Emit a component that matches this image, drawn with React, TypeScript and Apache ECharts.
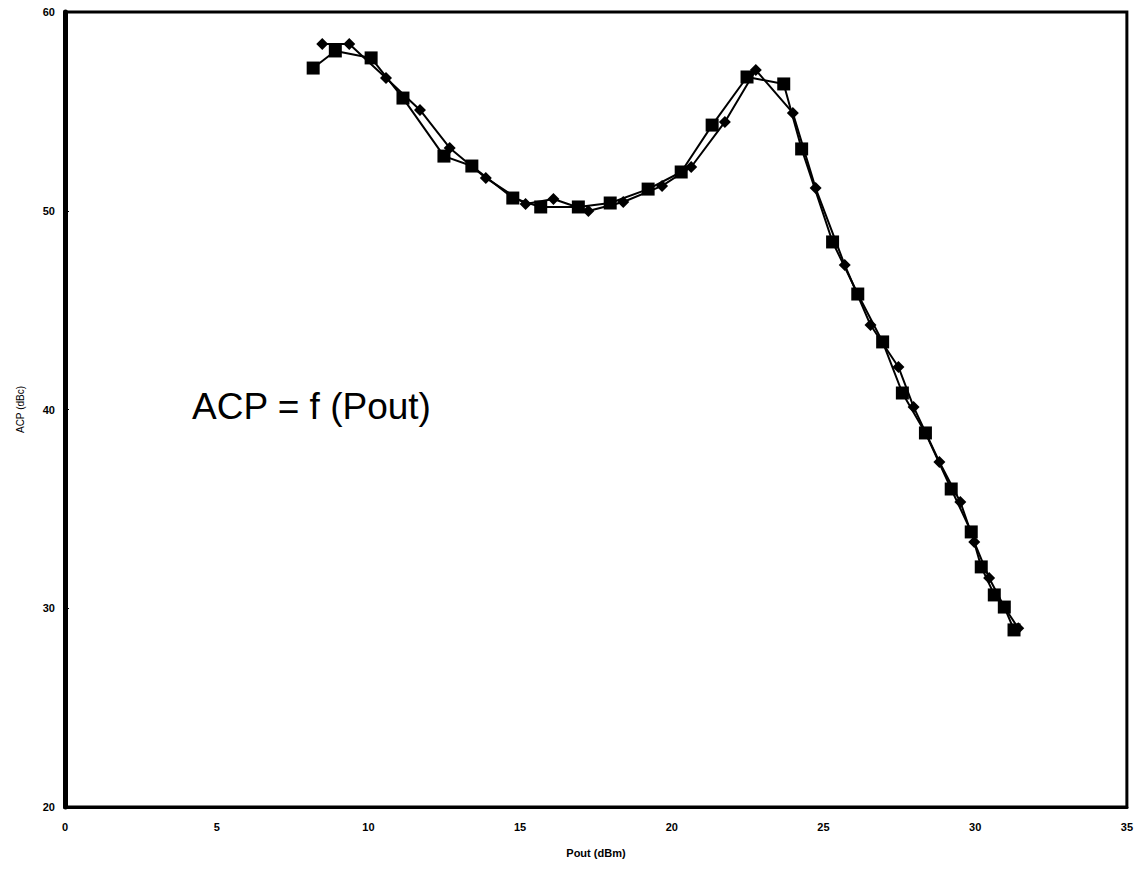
import React, { useEffect, useRef } from "react";
import * as echarts from "echarts";

const squareX = [8.18, 8.91, 10.09, 11.14, 12.49, 13.41, 14.76, 15.68, 16.92, 17.97, 19.22, 20.31, 21.33, 22.48, 23.69, 24.28, 25.3, 26.13, 26.95, 27.6, 28.36, 29.21, 29.87, 30.2, 30.63, 30.96, 31.28];
const squareY = [57.18, 58.04, 57.69, 55.67, 52.75, 52.25, 50.64, 50.19, 50.19, 50.39, 51.09, 51.95, 54.31, 56.73, 56.38, 53.11, 48.43, 45.81, 43.4, 40.83, 38.82, 36.0, 33.84, 32.08, 30.67, 30.06, 28.91];
const diamondX = [8.48, 9.37, 10.58, 11.7, 12.68, 13.87, 15.18, 16.1, 17.25, 18.4, 19.68, 20.64, 21.75, 22.77, 23.99, 24.74, 25.7, 26.55, 27.47, 27.97, 28.82, 29.51, 29.97, 30.46, 30.96, 31.42];
const diamondY = [58.39, 58.39, 56.68, 55.07, 53.16, 51.65, 50.34, 50.59, 49.99, 50.44, 51.25, 52.2, 54.47, 57.08, 54.92, 51.14, 47.27, 44.25, 42.14, 40.13, 37.36, 35.35, 33.33, 31.52, 30.06, 29.0];
const xTicks = [0, 5, 10, 15, 20, 25, 30, 35];
const yTicks = [20, 30, 40, 50, 60];
const xName = "Pout (dBm)";
const yName = "ACP (dBc)";
const annotation = "ACP = f (Pout)";

export default function App() {
  const ref = useRef<HTMLDivElement>(null);
  useEffect(() => {
    document.body.style.margin = "0";
    if (!ref.current) return;
    const chart = echarts.init(ref.current, null, { renderer: "svg" });
    const labelStyle = { color: "#000", fontFamily: "Liberation Sans", fontSize: 11, fontWeight: "bold" as const };
    chart.setOption({
      animation: false,
      backgroundColor: "#fff",
      grid: { left: 65, right: 5, top: 12, bottom: 68, show: true, borderColor: "#000", borderWidth: 3, backgroundColor: "transparent" },
      xAxis: {
        type: "value",
        min: xTicks[0],
        max: xTicks[xTicks.length - 1],
        interval: 5,
        name: xName,
        nameLocation: "middle",
        nameGap: 40,
        nameTextStyle: labelStyle,
        axisLine: { lineStyle: { color: "#000", width: 3 } },
        axisTick: { show: false },
        splitLine: { show: false },
        axisLabel: { ...labelStyle, margin: 14 },
      },
      yAxis: {
        type: "value",
        min: yTicks[0],
        max: yTicks[yTicks.length - 1],
        interval: 10,
        name: yName,
        nameLocation: "middle",
        nameGap: 40,
        nameRotate: 90,
        nameTextStyle: { ...labelStyle, fontSize: 10, fontWeight: "normal" },
        axisLine: { lineStyle: { color: "#000", width: 5 } },
        axisTick: { show: true, inside: true, length: 4, lineStyle: { color: "#000" } },
        splitLine: { show: false },
        axisLabel: { ...labelStyle, margin: 10 },
      },
      graphic: [
        {
          type: "text",
          left: 192,
          top: 388,
          style: { text: annotation, font: "37px 'Liberation Sans'", fill: "#000" },
        },
      ],
      series: [
        {
          type: "line",
          data: squareX.map((x, i) => [x, squareY[i]]),
          symbol: "rect",
          symbolSize: 13,
          itemStyle: { color: "#000" },
          lineStyle: { color: "#000", width: 2 },
          z: 3,
        },
        {
          type: "line",
          data: diamondX.map((x, i) => [x, diamondY[i]]),
          symbol: "diamond",
          symbolSize: 12,
          itemStyle: { color: "#000" },
          lineStyle: { color: "#000", width: 2 },
          z: 4,
        },
      ],
    });
    return () => chart.dispose();
  }, []);
  return <div ref={ref} style={{ width: 1136, height: 875 }} />;
}
